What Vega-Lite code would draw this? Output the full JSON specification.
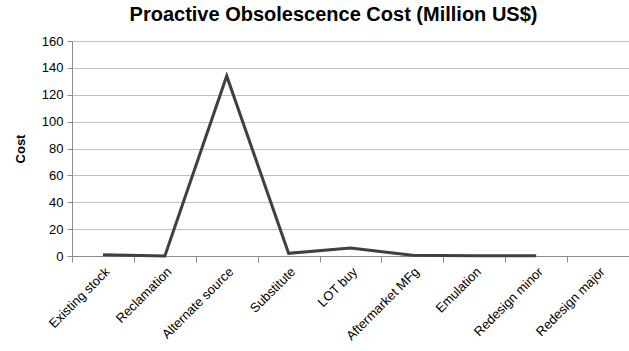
{
  "$schema": "https://vega.github.io/schema/vega-lite/v6.json",
  "autosize": "none",
  "padding": {"left": 72, "top": 41, "right": 0, "bottom": 95},
  "width": 557,
  "height": 215,
  "background": "white",
  "title": {
    "text": "Proactive Obsolescence Cost (Million US$)",
    "font": "Liberation Sans",
    "fontSize": 20,
    "fontWeight": "bold",
    "color": "#000000",
    "anchor": "middle",
    "dx": -17,
    "offset": 10
  },
  "data": {
    "values": [
      {"Method": "Existing stock", "Cost": 1},
      {"Method": "Reclamation", "Cost": 0},
      {"Method": "Alternate source", "Cost": 134},
      {"Method": "Substitute", "Cost": 2},
      {"Method": "LOT buy", "Cost": 6},
      {"Method": "Aftermarket MFg", "Cost": 0.5},
      {"Method": "Emulation", "Cost": 0.2},
      {"Method": "Redesign minor", "Cost": 0.2},
      {"Method": "Redesign major", "Cost": null}
    ]
  },
  "config": {
    "view": {"stroke": null},
    "axis": {
      "labelFont": "Liberation Sans",
      "titleFont": "Liberation Sans",
      "labelColor": "#000000",
      "titleColor": "#000000",
      "domainColor": "#8c8c8c",
      "tickColor": "#8c8c8c",
      "gridColor": "#c0c0c0"
    }
  },
  "mark": {"type": "line", "color": "#404040", "strokeWidth": 3},
  "encoding": {
    "x": {
      "field": "Method",
      "type": "nominal",
      "sort": null,
      "scale": {"paddingInner": 0, "paddingOuter": 0},
      "axis": {
        "title": null,
        "labelAngle": -45,
        "labelAlign": "right",
        "labelBaseline": "top",
        "labelFontSize": 13,
        "labelPadding": 3,
        "labelOverlap": false,
        "tickBand": "extent",
        "tickSize": 6,
        "grid": false
      }
    },
    "y": {
      "field": "Cost",
      "type": "quantitative",
      "scale": {"domain": [0, 160], "nice": false},
      "axis": {
        "title": "Cost",
        "titleFontSize": 13,
        "titleFontWeight": "bold",
        "titlePadding": 14,
        "labelFontSize": 13,
        "labelPadding": 4,
        "labelOverlap": false,
        "values": [0, 20, 40, 60, 80, 100, 120, 140, 160],
        "tickSize": 5,
        "grid": true
      }
    }
  }
}
